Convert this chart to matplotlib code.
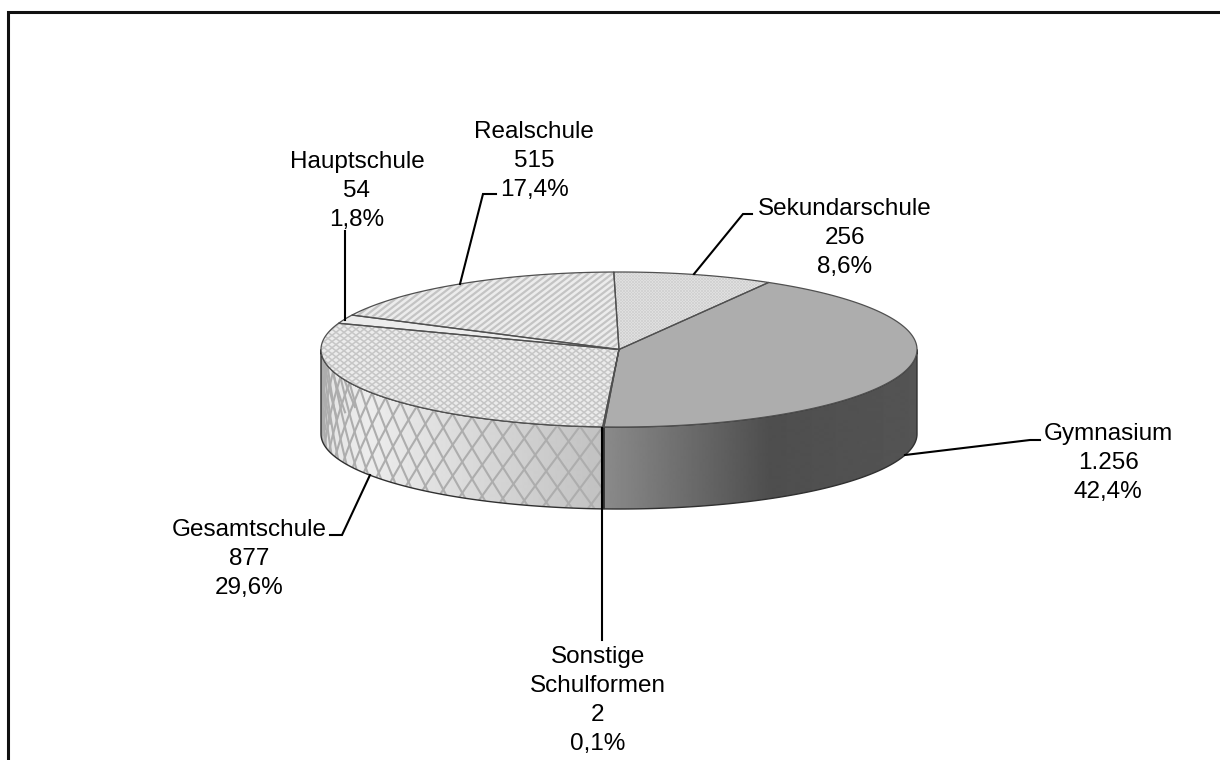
import numpy as np
import matplotlib
matplotlib.use("Agg")
import matplotlib.pyplot as plt
from matplotlib.patches import Polygon, PathPatch
from matplotlib.path import Path
from matplotlib.collections import LineCollection

plt.rcParams['font.family'] = ['Liberation Sans', 'DejaVu Sans']

# --- data (clockwise from the top) ---
categories = ['Sekundarschule', 'Gymnasium', 'Sonstige\nSchulformen', 'Gesamtschule', 'Hauptschule', 'Realschule']
values = [256, 1256, 2, 877, 54, 515]

# --- layout (pixels) ---
W, H = 1220, 760
CX, CY, RX, RY = 619.0, 349.5, 298.0, 77.5
BCY, BRY = 434.0, 75.0
START = -1.0
label_pos = [(845, 236), (1108, 461), (598, 698.5), (249, 557), (357, 189), (534, 159)]
leaders = [[(694, 274), (743, 214), (752, 214)],
           [(905, 455), (1030, 440), (1040, 440)],
           [(602, 428), (602, 640)],
           [(370, 475), (342, 535), (330, 535)],
           [(345, 320), (345, 231)],
           [(460, 284), (483, 194), (496, 194)]]

fig = plt.figure(figsize=(W / 100, H / 100), dpi=100)
ax = fig.add_axes([0, 0, 1, 1])
ax.set_xlim(0, W)
ax.set_ylim(H, 0)
ax.axis('off')


def ell(t, cy=CY, ry=RY):
    t = np.radians(t)
    return CX + RX * np.sin(t), cy - ry * np.cos(t)


def clip_lines(lines, path, color, lw, z):
    lc = LineCollection(lines, colors=color, linewidths=lw, zorder=z)
    ax.add_collection(lc)
    lc.set_clip_path(PathPatch(path, transform=ax.transData))


def hatch(path, slope, spacing, color, lw, z):
    """Parallel lines x = c + slope*y, clipped to path."""
    ext = abs(slope) * H + W
    lines = [[(c, 0), (c + slope * H, H)] for c in np.arange(-ext, ext, spacing)]
    clip_lines(lines, path, color, lw, z)


def wrapped_hatch(path, a, b, period, height, color, lw, z):
    """Diamond lattice wrapped round the cylinder wall."""
    s = np.linspace(0, 1, 40)
    lines = []
    for c in np.arange(a - 4 * period, b + 4 * period, period):
        for sign in (1, -1):
            v = s * (BCY - CY + 10)
            t = c + sign * v / height * period
            x, y = ell(t)
            lines.append(np.c_[x, y + v])
    clip_lines(lines, path, color, lw, z)


def gradient(path, xs, gs, z):
    grid = np.linspace(0, W, W + 1)
    img = np.interp(grid, xs, gs)[None, :]
    im = ax.imshow(img, extent=(0, W, H, 0), cmap='gray', vmin=0, vmax=255,
                   aspect='auto', zorder=z, interpolation='bilinear')
    im.set_clip_path(PathPatch(path, transform=ax.transData))


fracs = np.array(values) / sum(values)
edges = START + np.concatenate(([0], np.cumsum(fracs))) * 360

# sides
side_styles = {1: ([600, 770, 916], [140, 78, 84]),
               3: ([321, 370, 600], [228, 236, 194]),
               2: ([0, W], [180, 180])}
for i in (3, 2, 1):
    a, b = max(edges[i], 90), min(edges[i + 1], 270)
    if b <= a:
        continue
    t = np.linspace(a, b, 120)
    xt, yt = ell(t)
    xb, yb = ell(t, BCY, BRY)
    pts = np.vstack([np.c_[xt, yt], np.c_[xb, yb][::-1]])
    path = Path(np.vstack([pts, pts[0]]), closed=True)
    xs, gs = side_styles[i]
    gradient(path, xs, gs, 2)
    if i == 3:
        wrapped_hatch(path, a, b, 4.4, 31, '#adadad', 1.5, 3)
    ax.add_patch(Polygon(pts, closed=True, fc='none', ec='#303030', lw=1.0, zorder=4))

# top slices
top_fill = ['#e8e8e8', '#adadad', '#d0d0d0', '#ececec', '#ececec', '#ececec']
for i in range(len(values)):
    t = np.linspace(edges[i], edges[i + 1], 200)
    x, y = ell(t)
    pts = np.vstack([[CX, CY], np.c_[x, y]])
    path = Path(np.vstack([pts, pts[0]]), closed=True)
    ax.add_patch(Polygon(pts, closed=True, fc=top_fill[i], ec='none', zorder=5))
    if i == 0:
        hatch(path, 1.0, 3.0, '#cfcfcf', 0.6, 6)
        hatch(path, -1.0, 3.0, '#cfcfcf', 0.6, 6)
    elif i == 3:
        hatch(path, 1.3, 8.0, '#c6c6c6', 1.1, 6)
        hatch(path, -1.3, 8.0, '#c6c6c6', 1.1, 6)
    elif i == 5:
        hatch(path, -1.3, 8.0, '#c4c4c4', 1.6, 6)
    ax.add_patch(Polygon(pts, closed=True, fc='none', ec='#505050', lw=0.9, zorder=7,
                         joinstyle='round'))

# leaders
for pts in leaders:
    ax.plot(*zip(*pts), color='black', lw=1.5, zorder=8, solid_joinstyle='miter')


# labels
def thousands(v):
    return f'{v:,}'.replace(',', '.')


for name, v, f, (lx, ly) in zip(categories, values, fracs, label_pos):
    pct = f'{f * 100:.1f}'.replace('.', ',') + '%'
    ax.text(lx, ly + 2, f'{name}\n{thousands(v)}\n{pct}', ha='center', va='center',
            ma='center', fontsize=17.5, color='black', linespacing=1.4, zorder=9)

# frame: only top and left edges
ax.plot([7.5, 7.5, W], [H, 11.5, 11.5], color='#111111', lw=2.2, zorder=10,
        solid_joinstyle='miter', clip_on=True)

fig.savefig('out.png', dpi=100, facecolor='white')
